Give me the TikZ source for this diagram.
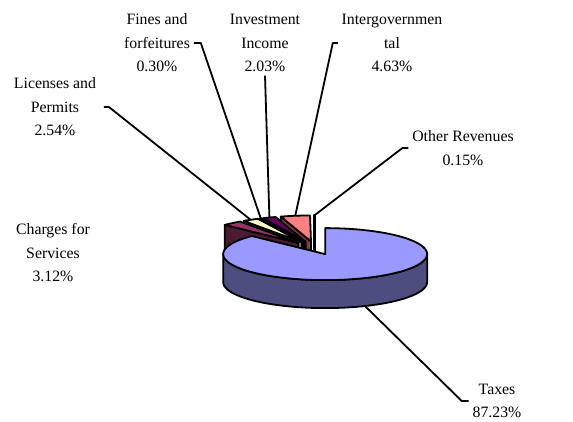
\documentclass[tikz,border=0pt]{standalone}
\usepackage{fontspec}
\setmainfont{Liberation Serif}
\usepackage{xcolor}
\definecolor{taxtop}{HTML}{9999FF}
\definecolor{taxside}{HTML}{4D4D80}
\definecolor{chgtop}{HTML}{993366}
\definecolor{chgside}{HTML}{4D1A33}
\definecolor{lictop}{HTML}{FFFFCC}
\definecolor{licside}{HTML}{808066}
\definecolor{fintop}{HTML}{CCFFFF}
\definecolor{finside}{HTML}{668080}
\definecolor{invtop}{HTML}{660066}
\definecolor{invside}{HTML}{330033}
\definecolor{inttop}{HTML}{FF8080}
\definecolor{intside}{HTML}{804040}
\definecolor{othtop}{HTML}{0066CC}
\definecolor{othside}{HTML}{003366}
\newcommand{\pcx}{315}
\newcommand{\pcy}{248}
\newcommand{\prx}{102}
\newcommand{\pry}{26}
\newcommand{\pk}{0.255}
\newcommand{\pdp}{28}
\newcommand{\pex}{26}
\newcommand{\pieslice}[5]{%
  \pgfmathsetmacro{\slm}{(#1+#2)/2}%
  \pgfmathsetmacro{\slax}{\pcx+\pex*cos(\slm)}%
  \pgfmathsetmacro{\slay}{\pcy-\pex*\pk*sin(\slm)}%
  \coordinate (#5) at (\slax,\slay);
  \filldraw[fill=#4] (#5) -- ++({\prx*cos(#2)},{-\pry*sin(#2)}) -- ++(0,\pdp)
    -- ++({-\prx*cos(#2)},{\pry*sin(#2)}) -- cycle;
  \filldraw[fill=#3] (#5) -- plot[domain=#1:#2,samples=8]
    ({\slax+\prx*cos(\x)},{\slay-\pry*sin(\x)}) -- cycle;
  \coordinate (#5-rim) at ({\slax+\prx*cos(\slm)},{\slay-\pry*sin(\slm)});
}

\begin{document}
\begin{tikzpicture}[x=1pt,y=-1pt,line width=1.8pt,line join=round,
    lbl/.style={align=center,inner sep=3pt,font=\fontsize{15.8}{23.5}\selectfont}]
  \useasboundingbox (0,0) rectangle (573,421);
  % small slices, back to front
  \pieslice{90}{90.54}{othtop}{othside}{oth}
  \pieslice{90.54}{107.21}{inttop}{intside}{int}
  \pieslice{107.21}{114.52}{invtop}{invside}{inv}
  \pieslice{114.52}{115.60}{fintop}{finside}{fin}
  \pieslice{115.60}{124.74}{lictop}{licside}{lic}
  \pieslice{124.74}{135.97}{chgtop}{chgside}{chg}
  % taxes
  \pgfmathsetmacro{\slax}{\pcx+\pex*cos(292.985)}
  \pgfmathsetmacro{\slay}{\pcy-\pex*\pk*sin(292.985)}
  \coordinate (tax) at (\slax,\slay);
  \filldraw[fill=taxside] plot[domain=180:360,samples=40] ({\slax+\prx*cos(\x)},{\slay-\pry*sin(\x)})
    -- plot[domain=360:180,samples=40] ({\slax+\prx*cos(\x)},{\slay+\pdp-\pry*sin(\x)}) -- cycle;
  \filldraw[fill=taxtop] (tax) -- plot[domain=135.97:450,samples=90]
    ({\slax+\prx*cos(\x)},{\slay-\pry*sin(\x)}) -- cycle;
  \coordinate (tax-rim) at ({\slax+\prx*cos(292.985)},{\slay+\pdp-\pry*sin(292.985)});

  \node[lbl] (lblFin) at (157,43) {Fines and\\forfeitures\\0.30\%};
  \node[lbl] (lblInv) at (265,43) {Investment\\Income\\2.03\%};
  \node[lbl] (lblInt) at (392,43) {Intergovernmen\\tal\\4.63\%};
  \node[lbl] (lblLic) at (55,107) {Licenses and\\Permits\\2.54\%};
  \node[lbl] (lblOth) at (463,148) {Other Revenues\\0.15\%};
  \node[lbl] (lblChg) at (53,253) {Charges for\\Services\\3.12\%};
  \node[lbl] (lblTax) at (497,401) {Taxes\\87.23\%};

  \path[draw]
    ([xshift=4pt]lblLic.east) -- ++(5,0) -- (lic-rim)
    (lblFin.east) -- ++(7,0) -- (fin-rim)
    (lblInv.south) -- (inv-rim)
    (lblInt.west) -- ++(-5,0) -- (int-rim)
    (lblOth.west) -- ++(-6,0) -- (oth-rim)
    (lblTax.west) -- ++(-7,0) -- (tax-rim);
\end{tikzpicture}
\end{document}
